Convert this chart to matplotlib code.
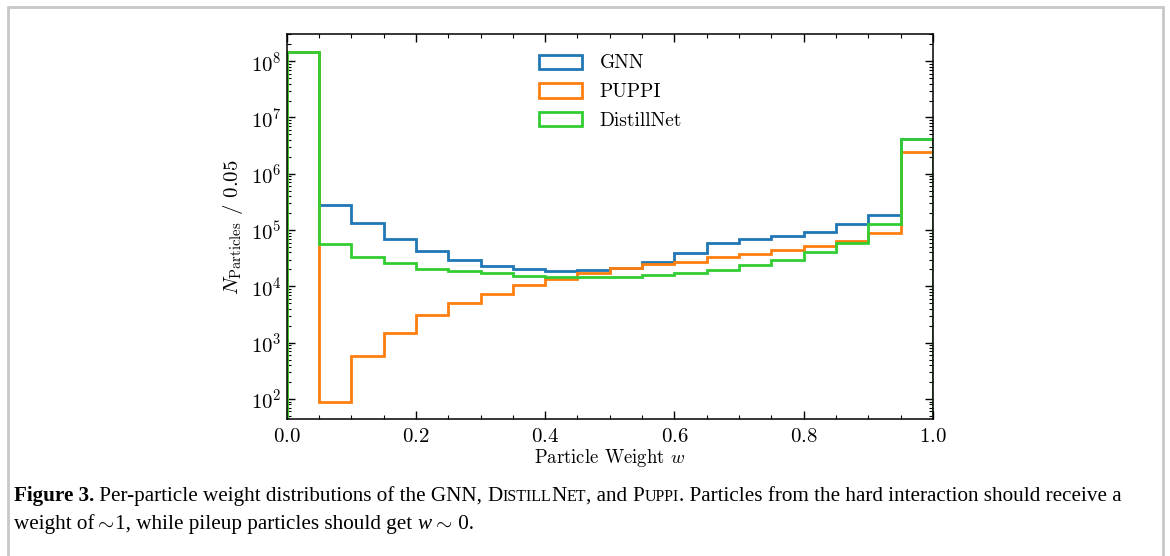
import numpy as np
import matplotlib
matplotlib.use('Agg')
import matplotlib.pyplot as plt
from matplotlib.patches import Rectangle
from matplotlib.ticker import MultipleLocator, LogLocator, NullFormatter

plt.rcParams['font.family'] = 'serif'
plt.rcParams['font.serif'] = ['cmr10']
plt.rcParams['mathtext.fontset'] = 'cm'
plt.rcParams['axes.formatter.use_mathtext'] = True

# bin edges, width 0.05
edges = np.linspace(0.0, 1.0, 21)

# counts per bin
gnn = [1.44e8, 2.83e5, 1.32e5, 7.0e4, 4.26e4, 2.94e4, 2.27e4, 2.01e4, 1.88e4, 1.95e4,
       2.15e4, 2.68e4, 3.87e4, 5.83e4, 7.03e4, 7.85e4, 9.25e4, 1.30e5, 1.88e5, 4.1e6]
puppi = [1.44e8, 87, 581, 1.51e3, 3.07e3, 5.14e3, 7.33e3, 1.06e4, 1.35e4, 1.71e4,
         2.15e4, 2.46e4, 2.75e4, 3.33e4, 3.76e4, 4.43e4, 5.22e4, 6.4e4, 8.77e4, 2.41e6]
distillnet = [1.44e8, 5.6e4, 3.37e4, 2.57e4, 2.06e4, 1.85e4, 1.71e4, 1.53e4, 1.49e4, 1.49e4,
              1.49e4, 1.57e4, 1.71e4, 1.95e4, 2.37e4, 2.98e4, 4.03e4, 5.83e4, 1.28e5, 4.1e6]

labels = ['GNN', 'PUPPI', 'DistillNet']
colors = ['#1f77b4', '#ff7f0e', '#32cd32']

fig = plt.figure(figsize=(11.7, 5.56), dpi=100)
ax = fig.add_axes([0.245, 0.2459, 0.5524, 0.6924])

centers = 0.5 * (edges[:-1] + edges[1:])
for vals, lab, col in zip([gnn, puppi, distillnet], labels, colors):
    ax.hist(centers, bins=edges, weights=vals, histtype='step', color=col,
            linewidth=2, label=lab)

ax.set_yscale('log')
ax.set_xlim(0, 1)
ax.set_ylim(43.6, 3.0e8)
ax.xaxis.set_major_locator(MultipleLocator(0.2))
ax.xaxis.set_minor_locator(MultipleLocator(0.05))
ax.yaxis.set_major_locator(LogLocator(base=10, numticks=20))
ax.yaxis.set_minor_locator(LogLocator(base=10, subs=np.arange(2, 10), numticks=20))
ax.yaxis.set_minor_formatter(NullFormatter())
ax.tick_params(which='both', direction='in', top=True, right=True)
ax.tick_params(which='major', length=6, width=1, labelsize=15)
ax.tick_params(axis='y', which='major', pad=3.5)
ax.tick_params(axis='x', which='major', pad=6)
ax.tick_params(which='minor', length=3, width=0.8)
for s in ax.spines.values():
    s.set_linewidth(1.1)

ax.set_xlabel('Particle Weight $w$', fontsize=13.5, labelpad=1)
ax.set_ylabel(r'$N_{\mathrm{Particles}}$ / 0.05', fontsize=15, labelpad=4)

ax.legend(loc='upper left', bbox_to_anchor=(0.364, 0.993), frameon=False, fontsize=14,
          handlelength=2.2, handleheight=0.75, handletextpad=0.9, labelspacing=0.56)

# light grey frame round the figure
fig.patches.append(Rectangle((8 / 1170, -0.01), (1163 - 8) / 1170, (556 - 6.5) / 556 + 0.01,
                             transform=fig.transFigure, fill=False, edgecolor='#c8c8c8',
                             linewidth=2, zorder=0))

# caption, drawn piece by piece for bold and small caps
renderer = fig.canvas.get_renderer()
cap_font = 'Liberation Serif'
cap_size = 15.2
small = 0.76 * cap_size


def draw_line(pieces, x_px, y_px):
    x = x_px
    for txt, size, weight, style in pieces:
        t = fig.text(x / 1170, 1 - y_px / 556, txt, fontsize=size, fontweight=weight,
                     fontstyle=style, family=cap_font, va='baseline', ha='left')
        bb = t.get_window_extent(renderer=renderer)
        x += bb.width


N = 'normal'
line1 = [('Figure 3.', cap_size, 'bold', N),
         (' Per-particle weight distributions of the GNN, ', cap_size, N, N),
         ('D', cap_size, N, N), ('ISTILL', small, N, N), ('N', cap_size, N, N), ('ET', small, N, N),
         (', and ', cap_size, N, N),
         ('P', cap_size, N, N), ('UPPI', small, N, N),
         ('. Particles from the hard interaction should receive a', cap_size, N, N)]
line2 = [('weight of', cap_size, N, N), (r'$\sim$', cap_size, N, N),
         ('1, while pileup particles should get ', cap_size, N, N),
         ('w', cap_size, N, 'italic'),
         (r'$\sim$', cap_size, N, N), (' 0.', cap_size, N, N)]
draw_line(line1, 14, 501)
draw_line(line2, 14, 529)

fig.savefig('out.png', dpi=100)
